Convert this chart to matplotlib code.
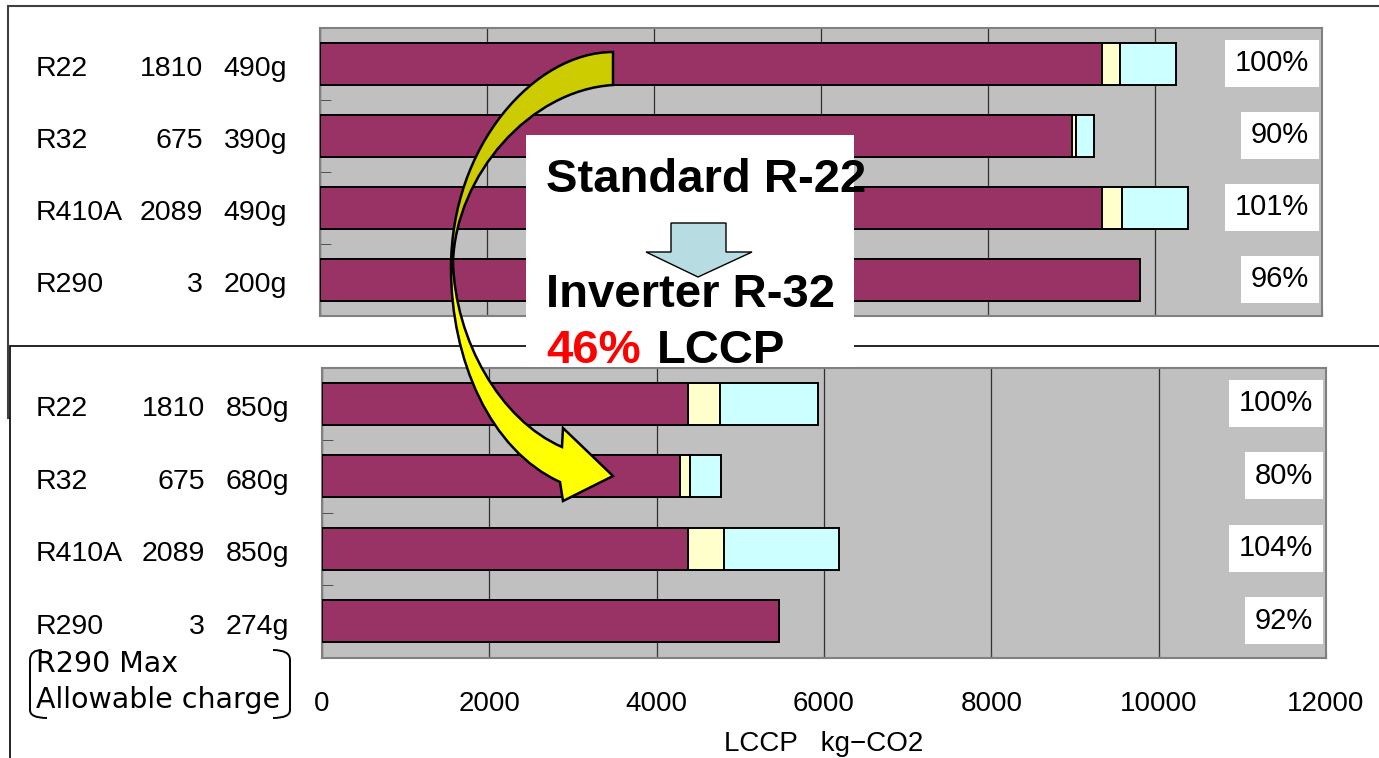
import matplotlib

matplotlib.use('agg')

from matplotlib import pyplot as plt
from matplotlib.patches import Rectangle, PathPatch, Polygon
from matplotlib.path import Path
import matplotlib.transforms as mtrans
import numpy as np

plt.rcParams['font.family'] = ['Liberation Sans', 'DejaVu Sans']

W, H = 1379, 758

refrigerants = ["R22", "R32", "R410A", "R290"]
gwp = [1810, 675, 2089, 3]

# standard (non-inverter) unit: indirect / manufacturing / leakage, kg-CO2
charge_std = ["490g", "390g", "490g", "200g"]
indirect_std = [9365, 9010, 9365, 9824]
manuf_std = [216, 48, 240, 0]
leak_std = [670, 215, 794, 0]

# inverter unit
charge_inv = ["850g", "680g", "850g", "274g"]
indirect_inv = [4378, 4279, 4378, 5458]
manuf_inv = [379, 115, 427, 0]
leak_inv = [1175, 371, 1370, 0]

xticks = [0, 2000, 4000, 6000, 8000, 10000, 12000]

PURPLE = "#993366"
CREAM = "#ffffcc"
CYAN = "#ccffff"


def draw_panel(ax, indirect, manuf, leak):
    y = np.arange(len(refrigerants))
    ax.set_facecolor("#c0c0c0")
    left = np.zeros(len(y))
    for vals, col in ((indirect, PURPLE), (manuf, CREAM), (leak, CYAN)):
        vals = np.array(vals, float)
        m = vals > 0
        ax.barh(y[m], vals[m], left=left[m], height=0.58, color=col,
                edgecolor="black", linewidth=1.4, zorder=3)
        left += vals
    ax.set_xlim(0, 12000)
    ax.set_ylim(3.5, -0.5)
    ax.set_xticks(xticks)
    ax.grid(axis="x", color="#303030", linewidth=0.9)
    ax.set_axisbelow(True)
    ax.set_yticks([])
    ax.set_yticks(np.arange(-0.5, 4, 1), minor=True)
    ax.tick_params(axis="y", which="minor", direction="in", length=8,
                   color="#404040", labelleft=False)
    ax.tick_params(axis="x", direction="in", length=5, color="#404040",
                   labelsize=20, pad=24)
    for s in ax.spines.values():
        s.set_color("#808080")
        s.set_linewidth(1.5)

    pct = left / left[0] * 100
    tr = mtrans.blended_transform_factory(ax.transAxes, ax.transData)
    for i, p in enumerate(pct):
        ax.text(0.987, i - 0.05, f"{p:.0f}%", transform=tr, ha="right",
                va="center_baseline", fontsize=21, zorder=5,
                bbox=dict(boxstyle="square,pad=0.33", fc="white", ec="none"))


def row_labels(ax, charges, gwp_right, charge_right):
    tr = mtrans.blended_transform_factory(fig.transFigure, ax.transData)
    for i, name in enumerate(refrigerants):
        yy = i + 0.03
        fig.text(36 / W, yy, name, transform=tr, ha="left",
                 va="center_baseline", fontsize=20.5)
        fig.text(gwp_right / W, yy, str(gwp[i]), transform=tr, ha="right",
                 va="center_baseline", fontsize=20.5)
        fig.text(charge_right / W, yy, charges[i], transform=tr, ha="right",
                 va="center_baseline", fontsize=20.5)


fig = plt.figure(figsize=(W / 100, H / 100), dpi=100)

# two framed sheets behind the charts
bg = fig.add_axes([0, 0, 1, 1], zorder=0)
bg.set_xlim(0, W)
bg.set_ylim(H, 0)
bg.axis("off")
bg.add_patch(Rectangle((8, 6), 1400, 412, fc="white", ec="#404040", lw=1.5))
bg.add_patch(Rectangle((10, 346), 1400, 430, fc="white", ec="black", lw=1.2))

ax1 = fig.add_axes([320 / W, 1 - 316 / H, 1002 / W, 288.3 / H], zorder=1)
ax2 = fig.add_axes([322 / W, 1 - 657.7 / H, 1004 / W, 290 / H], zorder=1)

draw_panel(ax1, indirect_std, manuf_std, leak_std)
ax1.tick_params(axis="x", labelbottom=False)
draw_panel(ax2, indirect_inv, manuf_inv, leak_inv)
ax2.set_xlabel("LCCP   kg\u2212CO2", fontsize=20, labelpad=10)

row_labels(ax1, charge_std, 203, 287)
row_labels(ax2, charge_inv, 205, 289)

# overlay: callout box, arrows, notes
ov = fig.add_axes([0, 0, 1, 1], zorder=5)
ov.patch.set_visible(False)
ov.axis("off")

ov.add_patch(Rectangle((526, 135), 328, 232, fc="white", ec="none"))
ov.add_patch(Polygon([(671, 223), (726, 223), (726, 252), (752, 252),
                      (698, 277), (646, 252), (671, 252)],
                     closed=True, fc="#b7dde3", ec="black", lw=1.0))
ov.text(546, 192, "Standard R-22", fontsize=34, fontweight="bold", va="baseline")
ov.text(546, 307, "Inverter R-32", fontsize=34, fontweight="bold", va="baseline")
ov.text(546, 363, "46%", fontsize=34, fontweight="bold", va="baseline", color="red")
ov.text(657, 363, "LCCP", fontsize=34, fontweight="bold", va="baseline")

# curved arrow from the standard R22 bar down to the inverter R32 bar
verts = [
    (613, 52),
    (535, 52), (451, 145), (451, 268),
    (451, 360), (490, 450), (560, 482),
    (563, 501), (613, 476), (563, 428), (562, 447),
    (500, 420), (455, 340), (453, 262),
    (456, 175), (530, 90), (613, 85),
    (613, 52),
]
codes = ([Path.MOVETO] + [Path.CURVE4] * 6 + [Path.LINETO] * 4
         + [Path.CURVE4] * 6 + [Path.CLOSEPOLY])
arrow = PathPatch(Path(verts, codes), fc="none", ec="black", lw=1.8, zorder=3)
ov.add_patch(arrow)

ys = np.linspace(40, 520, 480)
mix = np.clip((ys - 250) / 40, 0, 1)
grad = np.zeros((len(ys), 1, 3))
grad[:, 0, 0] = (204 + 51 * mix) / 255
grad[:, 0, 1] = (204 + 51 * mix) / 255
im = ov.imshow(grad, extent=[440, 620, 520, 40], origin="upper",
               aspect="auto", zorder=2)
im.set_clip_path(arrow)

# note on R290 charge, with brackets
ov.text(36, 672, "R290 Max", fontsize=20.5, va="baseline", family="DejaVu Sans")
ov.text(36, 708, "Allowable charge", fontsize=20.5, va="baseline", family="DejaVu Sans")
lb = Path([(42, 650), (30, 650), (30, 660), (30, 710), (30, 718), (47, 718)],
          [Path.MOVETO, Path.CURVE3, Path.CURVE3, Path.LINETO, Path.CURVE3, Path.CURVE3])
rb = Path([(273, 650), (290, 650), (290, 660), (290, 710), (290, 718), (273, 718)],
          [Path.MOVETO, Path.CURVE3, Path.CURVE3, Path.LINETO, Path.CURVE3, Path.CURVE3])
ov.add_patch(PathPatch(lb, fc="none", ec="black", lw=1.4))
ov.add_patch(PathPatch(rb, fc="none", ec="black", lw=1.4))

ov.set_xlim(0, W)
ov.set_ylim(H, 0)

plt.savefig("out.png", dpi=100)
